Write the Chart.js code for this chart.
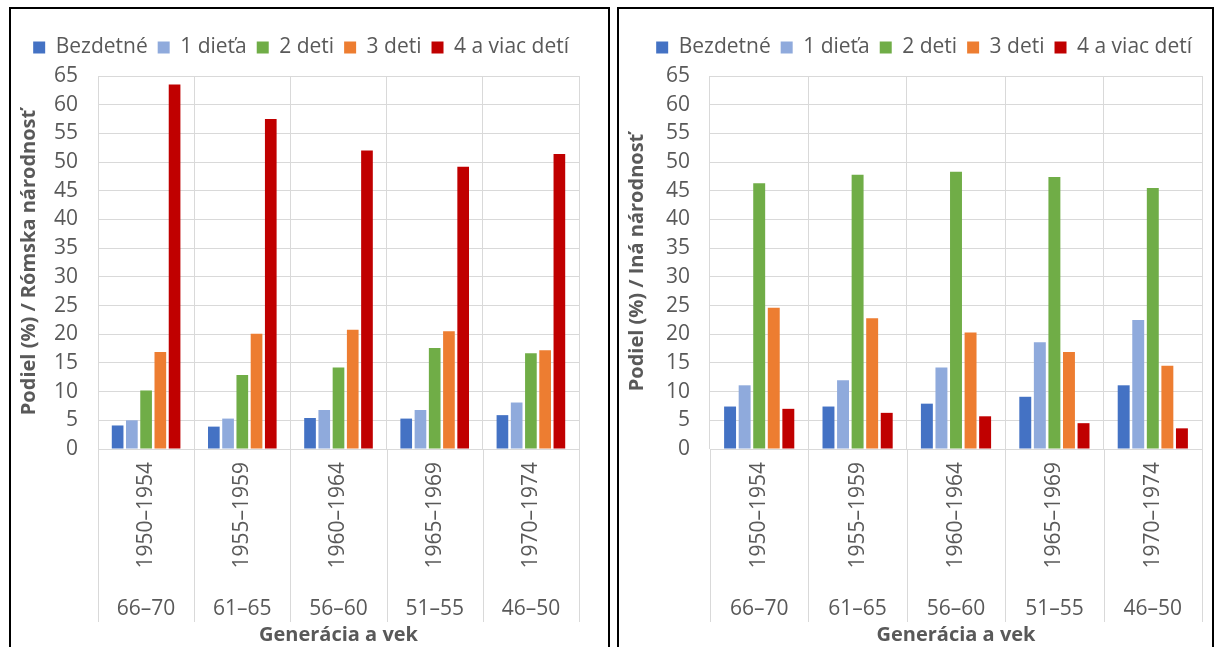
<!DOCTYPE html>
<html>
<head>
<meta charset="utf-8">
<script src="https://cdn.jsdelivr.net/npm/chart.js@4.4.0/dist/chart.umd.min.js"></script>
<style>
  body { margin: 0; background: #fff; overflow: hidden; }
  .panel { position: absolute; top: 7px; height: 660px; border: 2px solid #000; box-sizing: border-box; background: #fff; }
  #p1 { left: 9px; width: 601px; }
  #p2 { left: 617px; width: 597px; }
</style>
</head>
<body>
<div class="panel" id="p1"><canvas id="c1"></canvas></div>
<div class="panel" id="p2"><canvas id="c2"></canvas></div>
<script>
// kategórie (generácia) a vek
const generations = ['1950–1954', '1955–1959', '1960–1964', '1965–1969', '1970–1974'];
const ages = ['66–70', '61–65', '56–60', '51–55', '46–50'];
const seriesNames = ['Bezdetné', '1 dieťa', '2 deti', '3 deti', '4 a viac detí'];
const seriesColors = ['#4472C4', '#8FAADC', '#70AD47', '#ED7D31', '#C00000'];

// Rómska národnosť
const romaNone  = [4.1, 3.9, 5.4, 5.3, 5.9];
const romaOne   = [5.0, 5.3, 6.8, 6.8, 8.1];
const romaTwo   = [10.2, 12.9, 14.2, 17.6, 16.7];
const romaThree = [16.9, 20.1, 20.8, 20.5, 17.2];
const romaFour  = [63.5, 57.5, 52.0, 49.2, 51.4];

// Iná národnosť
const otherNone  = [7.4, 7.4, 7.9, 9.1, 11.1];
const otherOne   = [11.1, 12.0, 14.2, 18.6, 22.5];
const otherTwo   = [46.3, 47.8, 48.3, 47.4, 45.5];
const otherThree = [24.6, 22.8, 20.3, 16.9, 14.5];
const otherFour  = [7.0, 6.3, 5.7, 4.5, 3.6];

const yTicks = { min: 0, max: 65, step: 5 };

const gray = '#595959';
const gridGray = '#d9d9d9';
const font = 'Open Sans';

// extra space between legend and plot
const legendGap = {
  id: 'legendGap',
  beforeInit(chart) {
    const fit = chart.legend.fit;
    chart.legend.fit = function () {
      fit.call(this);
      this.height += 8;
    };
  }
};

// vertical separators through the category label area (like Excel multi-level axis)
const separators = {
  id: 'separators',
  afterDraw(chart) {
    const x = chart.scales.x, x2 = chart.scales.x2;
    const ctx = chart.ctx;
    const half = (x.getPixelForValue(1) - x.getPixelForValue(0)) / 2;
    const endY = x2.bottom - 25;
    ctx.save();
    ctx.strokeStyle = gridGray;
    ctx.lineWidth = 1;
    for (let i = 0; i <= generations.length; i++) {
      const px = Math.round(x.getPixelForValue(i) - half) + 0.5;
      ctx.beginPath();
      ctx.moveTo(px, chart.chartArea.bottom);
      ctx.lineTo(px, endY);
      ctx.stroke();
    }
    ctx.restore();
  }
};

function makeChart(id, title, series, yWidth, rightPad) {
  new Chart(document.getElementById(id), {
    type: 'bar',
    data: {
      labels: generations,
      datasets: series.map((d, i) => ({
        label: seriesNames[i],
        data: d,
        backgroundColor: seriesColors[i],
        borderWidth: 0,
        categoryPercentage: 0.74,
        barPercentage: 0.82
      }))
    },
    options: {
      responsive: true,
      maintainAspectRatio: false,
      animation: false,
      layout: { padding: { top: 18, right: rightPad, bottom: 18, left: 0 } },
      plugins: {
        legend: {
          position: 'top',
          align: 'end',
          labels: {
            boxWidth: 12, boxHeight: 12, padding: 10,
            color: gray, font: { family: font, size: 21 }
          }
        },
        tooltip: { enabled: false }
      },
      scales: {
        y: {
          min: yTicks.min, max: yTicks.max,
          ticks: { stepSize: yTicks.step, color: gray, padding: 20, font: { family: font, size: 21 } },
          grid: { color: gridGray, drawTicks: false },
          border: { display: false },
          title: { display: true, text: title, color: gray, font: { family: font, size: 20, weight: 'bold' }, padding: { top: 6, bottom: 0 } },
          afterFit: s => { s.width = yWidth; }
        },
        x: {
          offset: true,
          ticks: { color: gray, minRotation: 90, maxRotation: 90, padding: 13, font: { family: font, size: 21 } },
          grid: { offset: true, color: gridGray, drawTicks: false },
          border: { color: gridGray },
          afterFit: s => { s.height = 136; }
        },
        x2: {
          type: 'category',
          position: 'bottom',
          labels: ages,
          offset: true,
          weight: 1,
          ticks: { color: gray, padding: 3, font: { family: font, size: 21 } },
          grid: { display: false },
          border: { display: false },
          title: { display: true, text: 'Generácia a vek', color: gray, font: { family: font, size: 20, weight: 'bold' }, padding: { top: 0, bottom: 0 } },
          afterFit: s => { s.height = 62; }
        }
      }
    },
    plugins: [legendGap, separators]
  });
}

makeChart('c1', 'Podiel (%) / Rómska národnosť',
  [romaNone, romaOne, romaTwo, romaThree, romaFour], 87, 29);
makeChart('c2', 'Podiel (%) / Iná národnosť',
  [otherNone, otherOne, otherTwo, otherThree, otherFour], 91, 10);
</script>
</body>
</html>
